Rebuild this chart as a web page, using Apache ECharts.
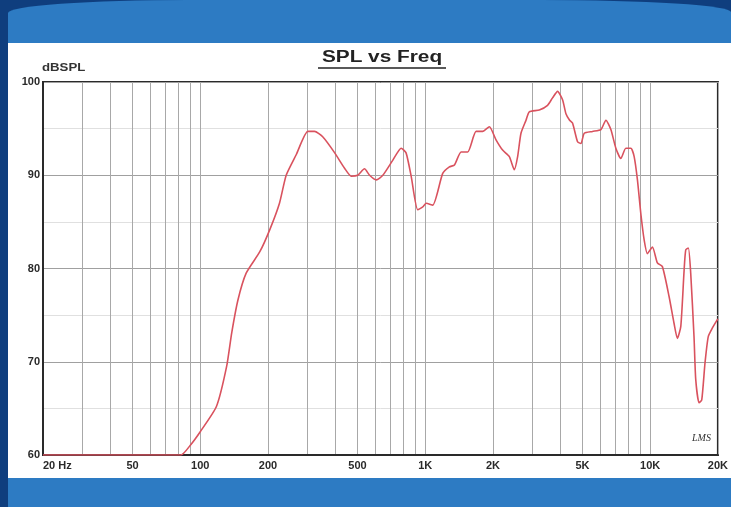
<!DOCTYPE html>
<html>
<head>
<meta charset="utf-8">
<script src="https://cdn.jsdelivr.net/npm/echarts@6/dist/echarts.min.js"></script>
<style>
  html, body { margin: 0; padding: 0; width: 731px; height: 507px; overflow: hidden; background: #0f3e7e; }
  #bg { position: absolute; left: 8px; top: 0; width: 723px; height: 507px; background: #2d7bc3;
        border-top-left-radius: 180px 13px; border-top-right-radius: 190px 12px; }
  #panel { position: absolute; left: 8px; top: 43px; width: 723px; height: 435px; background: #ffffff; }
  #chart { position: absolute; left: 0; top: 0; width: 731px; height: 507px; }
</style>
</head>
<body>
<div id="bg"></div>
<div id="panel"></div>
<div id="chart"></div>
<script>
// Frequency (Hz) of each traced point
const freqs = [20, 40, 82, 90, 100, 118, 131, 138, 147, 160, 184, 204, 225, 241, 267, 301, 322, 351, 396, 438,
  469, 501, 537, 566, 606, 648, 717, 782, 822, 866, 926, 975, 1009, 1080, 1196, 1281, 1349, 1444, 1545, 1683,
  1801, 1928, 2064, 2208, 2365, 2489, 2575, 2665, 2806, 2902, 3214, 3498, 3681, 3875, 4078, 4222, 4384, 4517,
  4754, 4923, 5092, 5541, 6039, 6355, 6687, 7037, 7406, 7794, 8203, 8487, 8776, 9085, 9397, 9720, 10230, 10765,
  11330, 12132, 12770, 13210, 13680, 14150, 14390, 14780, 15140, 15660, 15940, 16490, 16950, 17530, 18120,
  18880, 19870, 20000];
// SPL (dB) at each frequency
const spl = [60, 60, 60, 61.0, 62.5, 65.2, 69.5, 73.1, 76.6, 79.5, 81.8, 84.2, 87.0, 90.0, 92.2, 94.7, 94.7, 94.1, 92.4, 90.75,
  89.9, 90.0, 90.7, 90.0, 89.5, 90.0, 91.6, 92.9, 92.4, 89.9, 86.3, 86.6, 87.0, 86.8, 90.2, 90.9, 91.1, 92.5, 92.5, 94.7,
  94.7, 95.2, 93.8, 92.7, 92.0, 90.6, 92.0, 94.5, 95.9, 96.8, 97.0, 97.5, 98.3, 99.0, 98.1, 96.6, 95.9, 95.6,
  93.6, 93.4, 94.5, 94.7, 94.9, 95.9, 94.9, 92.9, 91.8, 92.9, 92.9, 92.0, 89.5, 85.9, 83.1, 81.6, 82.3, 80.6,
  80.2, 77.0, 74.1, 72.5, 73.8, 79.8, 82.0, 82.2, 79.5, 72.7, 68.1, 65.6, 65.9, 69.9, 72.7,
  73.6, 74.5, 74.6];
// Grid line frequencies and labelled tick frequencies
const gridFreqs = [20, 30, 40, 50, 60, 70, 80, 90, 100, 200, 300, 400, 500, 600, 700, 800, 900,
  1000, 2000, 3000, 4000, 5000, 6000, 7000, 8000, 9000, 10000, 20000];
const labelFreqs = [20, 50, 100, 200, 500, 1000, 2000, 5000, 10000, 20000];
const labelTexts = ['20 Hz', '50', '100', '200', '500', '1K', '2K', '5K', '10K', '20K'];
const yTicks = [60, 70, 80, 90, 100];

const chart = echarts.init(document.getElementById('chart'), null, { renderer: 'canvas' });
const data = freqs.map((f, i) => [f, spl[i]]);

chart.setOption({
  backgroundColor: 'transparent',
  animation: false,
  grid: { left: 43, top: 82, right: 12, bottom: 52, show: true, borderColor: '#2a2a2a', borderWidth: 2, backgroundColor: 'transparent' },
  xAxis: {
    type: 'log', logBase: 10, min: 20, max: 20000,
    axisLine: { show: true, lineStyle: { color: '#2a2a2a', width: 2 } },
    axisTick: { show: false, customValues: gridFreqs },
    splitLine: { show: true, lineStyle: { color: '#a8a8a8', width: 1 } },
    minorTick: { show: false }, minorSplitLine: { show: false },
    axisLabel: {
      customValues: labelFreqs,
      formatter: v => { const i = labelFreqs.findIndex(f => Math.abs(f - v) / f < 1e-6); return i >= 0 ? labelTexts[i] : ''; },
      alignMinLabel: 'left',
      margin: 5, color: '#2a2a2a', fontSize: 11, fontWeight: 'bold', fontFamily: 'Liberation Sans'
    }
  },
  yAxis: {
    type: 'value', min: 60, max: 100, interval: 5,
    axisLine: { show: true, lineStyle: { color: '#2a2a2a', width: 2 } },
    axisTick: { show: false },
    splitLine: { show: true, lineStyle: { color: ['#a0a0a0', '#e0e0e0'], width: 1 } },
    axisLabel: {
      formatter: v => yTicks.indexOf(v) >= 0 ? String(v) : '',
      margin: 3, color: '#2a2a2a', fontSize: 11, fontWeight: 'bold', fontFamily: 'Liberation Sans'
    }
  },
  graphic: [
    { type: 'text', x: 382, y: 58, scaleX: 1.3, style: { text: 'SPL vs Freq', font: 'bold 16px "Liberation Sans"', fill: '#222', textAlign: 'center', textVerticalAlign: 'middle' } },
    { type: 'line', shape: { x1: 318, y1: 68, x2: 446, y2: 68 }, style: { stroke: '#222', lineWidth: 1.5 } },
    { type: 'text', x: 42, y: 68, scaleX: 1.2, style: { text: 'dBSPL', font: 'bold 11px "Liberation Sans"', fill: '#333', textAlign: 'left', textVerticalAlign: 'middle' } },
    { type: 'text', x: 692, y: 438, style: { text: 'LMS', font: 'italic 10px "Liberation Serif"', fill: '#333', textAlign: 'left', textVerticalAlign: 'middle' } }
  ],
  series: [{
    type: 'line', data: data, showSymbol: false, smooth: 0.2,
    lineStyle: { color: '#d9525e', width: 1.6 },
    z: 5
  }]
});
</script>
</body>
</html>
